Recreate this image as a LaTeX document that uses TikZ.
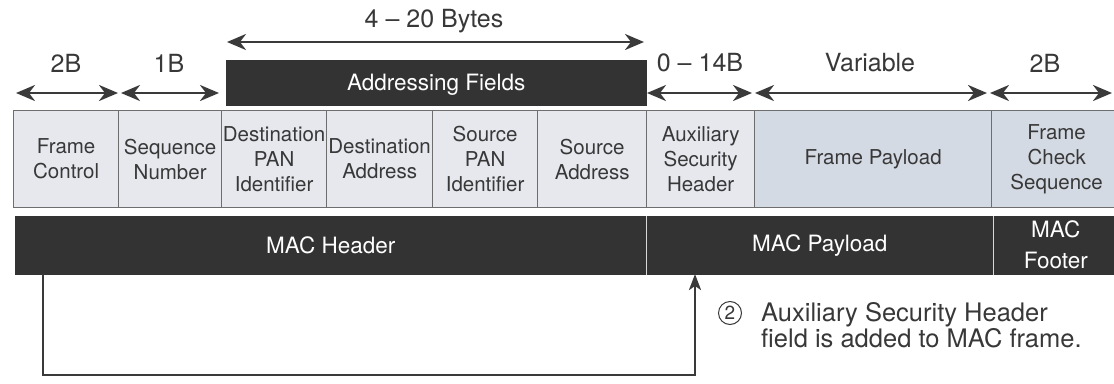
\documentclass[tikz,border=0pt]{standalone}
\usepackage{fontspec}
\setmainfont{TeX Gyre Heros}
\usetikzlibrary{arrows.meta}
\definecolor{dark}{HTML}{333333}
\definecolor{arrowc}{HTML}{3A3A3A}
\definecolor{cellfill}{HTML}{E6E8EE}
\definecolor{payfill}{HTML}{D4DAE4}
\definecolor{cellline}{HTML}{6E6E6E}
\definecolor{txt}{HTML}{383838}
\definecolor{sep}{HTML}{D8D8D8}
\tikzset{
  cell/.style={draw=cellline, line width=1.3pt, fill=cellfill, anchor=north west,
    minimum height=97pt, inner sep=0pt, align=center, text=txt,
    font=\fontsize{20.5}{25}\selectfont},
  bar/.style={fill=dark, draw=dark, line width=0.5pt, anchor=north west, minimum height=58pt,
    inner sep=0pt, align=center, text=white, font=\fontsize{22.5}{31}\selectfont},
  toplabel/.style={text=txt, font=\fontsize{25}{28}\selectfont, inner sep=0pt},
  dimarrow/.style={draw=arrowc, line width=2.6pt,
    {Stealth[length=19pt,width=16pt,inset=6pt]}-{Stealth[length=19pt,width=16pt,inset=6pt]}},
  linkline/.style={draw=arrowc, line width=2.4pt, -{Stealth[length=16pt,width=12pt,inset=4pt]}},
}
\begin{document}
\begin{tikzpicture}[x=1pt,y=-1pt]
\useasboundingbox (0,0) rectangle (1114,383);

% field cells
\node[cell, minimum width=105pt] (fc) at (13,110) {Frame\\Control};
\node[cell, minimum width=103pt] (sn) at (118,110) {Sequence\\Number};
\node[cell, minimum width=105pt] (dpan) at (221,110) {Destination\\PAN\\Identifier};
\node[cell, minimum width=106pt] (da) at (326,110) {Destination\\Address};
\node[cell, minimum width=105pt] (span) at (432,110) {Source\\PAN\\Identifier};
\node[cell, minimum width=109pt] (sa) at (537,110) {Source\\Address};
\node[cell, minimum width=108pt] (aux) at (646,110) {Auxiliary\\Security\\Header};
\node[cell, minimum width=237pt, fill=payfill] (fp) at (754,110) {Frame Payload};
\node[cell, minimum width=130pt, fill=payfill] (fcs) at (991,110) {Frame\\Check\\Sequence};

% dark bar
\node[bar, minimum width=631pt] (mh) at (15,216) {MAC Header};
\node[bar, minimum width=347pt] (mp) at (646,216) {MAC Payload};
\node[bar, minimum width=125pt] (mf) at (993,216) {MAC\\Footer};
\draw[sep, line width=1pt] (mp.north west) -- (mp.south west);
\draw[sep, line width=1pt] (mf.north west) -- (mf.south west);

% addressing fields box
\node[bar, minimum width=420pt, minimum height=45pt, text depth=-2pt] (af) at (226,60) {Addressing Fields};

% dimension arrows
\coordinate (a1) at (16,93);  \coordinate (a2) at (118,93);
\coordinate (b1) at (121,93); \coordinate (b2) at (219,93);
\coordinate (c1) at (647,93); \coordinate (c2) at (752,93);
\coordinate (d1) at (755,93); \coordinate (d2) at (987,93);
\coordinate (e1) at (990,93); \coordinate (e2) at (1112,93);
\coordinate (f1) at (227,42); \coordinate (f2) at (644,42);
\draw[dimarrow] (a1) -- (a2);
\draw[dimarrow] (b1) -- (b2);
\draw[dimarrow] (c1) -- (c2);
\draw[dimarrow] (d1) -- (d2);
\draw[dimarrow] (e1) -- (e2);
\draw[dimarrow] (f1) -- (f2);

\node[toplabel] (l1) at (66,63) {2B};
\node[toplabel] (l2) at (169,63) {1B};
\node[toplabel] (l3) at (434,21) {4 -- 20 Bytes};
\node[toplabel] (l4) at (700,63) {0 -- 14B};
\node[toplabel] (l5) at (870,63) {Variable};
\node[toplabel] (l6) at (1045,63) {2B};

% connector
\coordinate (s) at (43,274);
\coordinate (t) at (695,274);
\draw[linkline] (s) -- (43,375) -- (695,375) -- (t);

% annotation
\node[draw=txt, line width=1pt, circle, minimum size=23pt, inner sep=0pt, text=txt,
  font=\fontsize{19}{19}\selectfont] (num) at (730,313) {2};
\node[anchor=west, align=left, inner sep=0pt, text=txt,
  font=\fontsize{25.5}{23}\selectfont] (note) at (761,325)
  {Auxiliary Security Header\\field is added to MAC frame.};
\end{tikzpicture}
\end{document}
